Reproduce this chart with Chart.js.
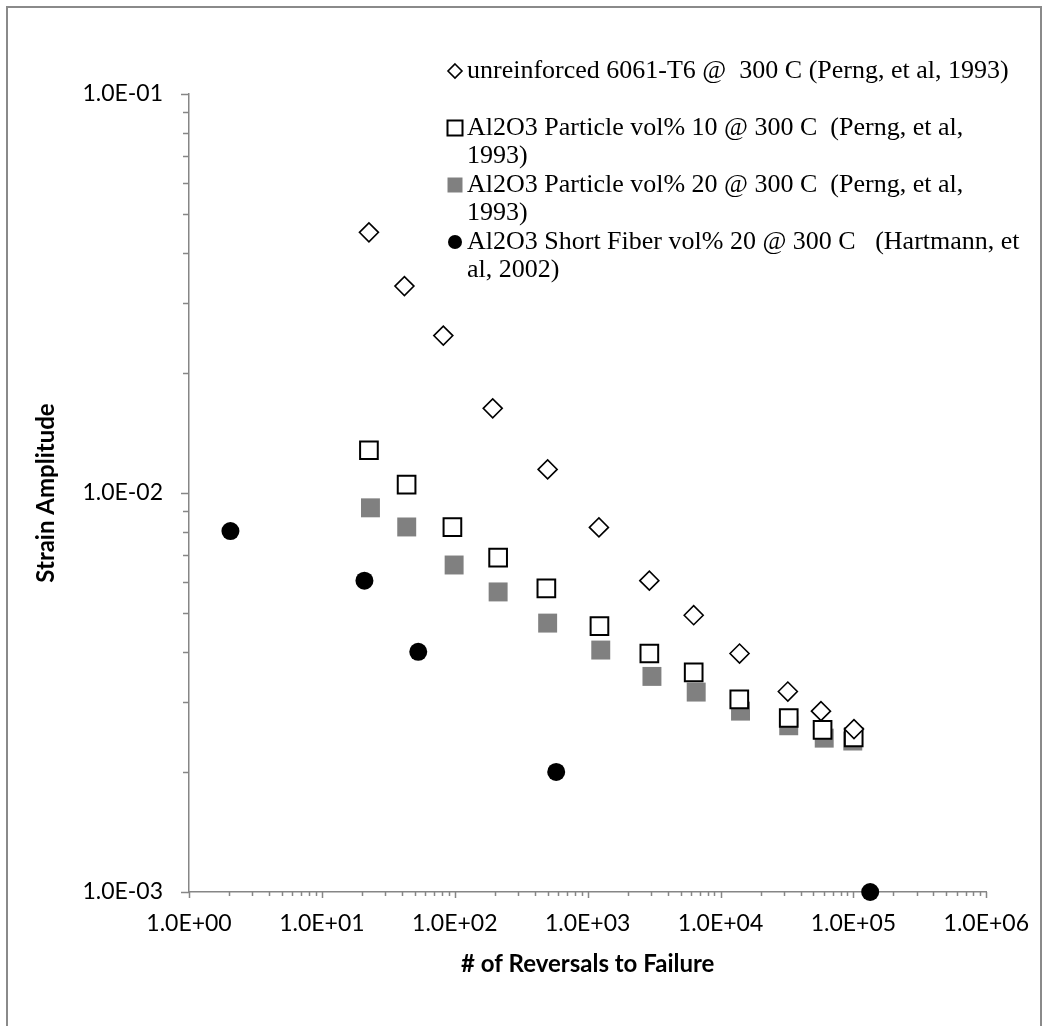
<!DOCTYPE html>
<html lang="en">
<head>
  <meta charset="UTF-8" />
  <title>Strain amplitude vs reversals to failure</title>
  <script src="https://cdn.jsdelivr.net/npm/chart.js@4.4.0/dist/chart.umd.min.js"></script>
  <style>
    body {
      margin: 0;
      background: white;
      overflow: hidden;
    }
    .frame {
      position: absolute;
      left: 6px;
      top: 6px;
      width: 1032px;
      height: 1040px;
      border: 2px solid #8a8a8a;
      pointer-events: none;
    }
    canvas {
      position: absolute;
      left: 0;
      top: 0;
    }
  </style>
</head>
<body>
  <canvas id="chart" width="1047" height="1026"></canvas>
  <div class="frame"></div>

  <script>
    // tick labels
    const xTickValues = [1, 10, 100, 1000, 10000, 100000, 1000000];
    const xTickLabels = ['1.0E+00', '1.0E+01', '1.0E+02', '1.0E+03', '1.0E+04', '1.0E+05', '1.0E+06'];
    const yTickValues = [0.001, 0.01, 0.1];
    const yTickLabels = ['1.0E-03', '1.0E-02', '1.0E-01'];

    // series names (legend lines)
    const seriesNames = [
      ['unreinforced 6061-T6 @  300 C (Perng, et al, 1993)'],
      ['Al2O3 Particle vol% 10 @ 300 C  (Perng, et al,', '1993)'],
      ['Al2O3 Particle vol% 20 @ 300 C  (Perng, et al,', '1993)'],
      ['Al2O3 Short Fiber vol% 20 @ 300 C   (Hartmann, et', 'al, 2002)']
    ];

    // unreinforced 6061-T6
    const unreinfX = [22.6, 41.8, 82, 193, 500, 1216, 2913, 6280, 13900, 32100, 57000, 101000];
    const unreinfY = [0.045, 0.033, 0.0248, 0.0163, 0.01146, 0.0082, 0.00603, 0.00494, 0.00396, 0.00318, 0.00284, 0.00256];

    // Al2O3 particle 10%
    const part10X = [22.6, 43.4, 96, 212, 489, 1227, 2913, 6280, 13840, 32600, 58600, 100500];
    const part10Y = [0.0128, 0.0105, 0.00821, 0.00689, 0.00577, 0.00464, 0.00396, 0.00355, 0.00304, 0.00273, 0.00255, 0.00244];

    // Al2O3 particle 20%
    const part20X = [23.2, 43.5, 98.9, 212, 500, 1255, 3047, 6560, 14140, 32600, 60300, 98900];
    const part20Y = [0.00918, 0.00822, 0.0066, 0.00565, 0.00472, 0.00404, 0.00347, 0.00317, 0.00284, 0.00261, 0.00243, 0.00239];

    // Al2O3 short fiber 20%
    const fiberX = [2.05, 20.9, 53.1, 580, 133700];
    const fiberY = [0.00803, 0.00603, 0.004, 0.002, 0.001];

    function toPoints(xs, ys) {
      return xs.map((x, i) => ({ x: x, y: ys[i] }));
    }

    const axisColor = '#868686';
    const labelFont = 'Lato, "Open Sans", sans-serif';

    // minor / major tick marks drawn outside the axes
    const tickMarks = {
      id: 'tickMarks',
      afterDraw(chart) {
        const ctx = chart.ctx;
        const xs = chart.scales.x, ys = chart.scales.y;
        const area = chart.chartArea;
        ctx.save();
        ctx.strokeStyle = axisColor;
        ctx.lineWidth = 1.5;
        ctx.beginPath();
        for (let e = 0; e <= 6; e++) {
          for (let k = 1; k <= 9; k++) {
            const v = k * Math.pow(10, e);
            if (v > 1000000) break;
            const px = Math.round(xs.getPixelForValue(v)) + 0.5;
            ctx.moveTo(px, area.bottom);
            ctx.lineTo(px, area.bottom + (k === 1 ? 6 : 4));
          }
        }
        for (let e = -3; e <= -1; e++) {
          for (let k = 1; k <= 9; k++) {
            const v = k * Math.pow(10, e);
            if (v > 0.1 + 1e-12) break;
            const py = Math.round(ys.getPixelForValue(v)) + 0.5;
            ctx.moveTo(area.left, py);
            ctx.lineTo(area.left - (k === 1 ? 8 : 6), py);
          }
        }
        ctx.stroke();
        ctx.restore();
      }
    };

    // legend inside the plot area, Excel style
    const legendBox = {
      id: 'legendBox',
      afterDraw(chart) {
        const ctx = chart.ctx;
        const textX = 467, markX = 455;
        const lineH = 28.5, top = 71;
        const startLine = [0, 2, 4, 6];
        ctx.save();
        ctx.font = '26px "Liberation Serif", "Times New Roman", serif';
        ctx.textBaseline = 'middle';
        ctx.textAlign = 'left';
        chart.data.datasets.forEach((ds, i) => {
          const y0 = top + startLine[i] * lineH;
          ctx.fillStyle = 'black';
          seriesNames[i].forEach((line, j) => {
            ctx.fillText(line, textX, y0 + j * lineH);
          });
          ctx.beginPath();
          if (ds.pointStyle === 'rectRot') {
            const r = 7;
            ctx.moveTo(markX, y0 - r);
            ctx.lineTo(markX + r, y0);
            ctx.lineTo(markX, y0 + r);
            ctx.lineTo(markX - r, y0);
            ctx.closePath();
          } else if (ds.pointStyle === 'rect') {
            ctx.rect(markX - 7.5, y0 - 7.5, 15, 15);
          } else {
            ctx.arc(markX, y0, 7, 0, Math.PI * 2);
          }
          ctx.fillStyle = ds.backgroundColor;
          ctx.fill();
          if (ds.borderWidth) {
            ctx.lineWidth = ds.borderWidth;
            ctx.strokeStyle = ds.borderColor;
            ctx.stroke();
          }
        });
        ctx.restore();
      }
    };

    new Chart(document.getElementById('chart'), {
      type: 'scatter',
      data: {
        datasets: [
          {
            label: seriesNames[0].join(' '),
            data: toPoints(unreinfX, unreinfY),
            pointStyle: 'rectRot',
            pointRadius: 9.5,
            backgroundColor: 'white',
            borderColor: 'black',
            borderWidth: 1.6
          },
          {
            label: seriesNames[1].join(' '),
            data: toPoints(part10X, part10Y),
            pointStyle: 'rect',
            pointRadius: 12.5,
            backgroundColor: 'white',
            borderColor: 'black',
            borderWidth: 2
          },
          {
            label: seriesNames[2].join(' '),
            data: toPoints(part20X, part20Y),
            pointStyle: 'rect',
            pointRadius: 13.4,
            backgroundColor: '#808080',
            borderColor: '#808080',
            borderWidth: 0
          },
          {
            label: seriesNames[3].join(' '),
            data: toPoints(fiberX, fiberY),
            pointStyle: 'circle',
            pointRadius: 9,
            backgroundColor: 'black',
            borderColor: 'black',
            borderWidth: 0
          }
        ]
      },
      options: {
        responsive: false,
        animation: false,
        clip: false,
        layout: {
          autoPadding: false,
          padding: { left: 0, top: 94, right: 48, bottom: 0 }
        },
        plugins: {
          legend: { display: false },
          tooltip: { enabled: false }
        },
        scales: {
          x: {
            type: 'logarithmic',
            min: 1,
            max: 1000000,
            afterBuildTicks: s => { s.ticks = xTickValues.map(v => ({ value: v })); },
            afterFit: s => { s.height = 134; },
            grid: { display: false, drawTicks: false },
            border: { display: true, color: axisColor, width: 1.5 },
            ticks: {
              autoSkip: false,
              maxRotation: 0,
              padding: 18,
              color: 'black',
              font: { family: labelFont, size: 23 },
              callback: (v, i) => xTickLabels[i]
            },
            title: {
              display: true,
              text: '# of Reversals to Failure',
              color: 'black',
              font: { family: labelFont, size: 24, weight: 'bold' },
              padding: { top: 0, bottom: 47 }
            }
          },
          y: {
            type: 'logarithmic',
            min: 0.001,
            max: 0.1,
            afterBuildTicks: s => { s.ticks = yTickValues.map(v => ({ value: v })); },
            afterFit: s => { s.width = 189; },
            grid: { display: false, drawTicks: false },
            border: { display: true, color: axisColor, width: 1.5 },
            ticks: {
              autoSkip: false,
              padding: 26,
              color: 'black',
              font: { family: labelFont, size: 23 },
              callback: (v, i) => yTickLabels[i]
            },
            title: {
              display: true,
              text: 'Strain Amplitude',
              color: 'black',
              font: { family: labelFont, size: 24, weight: 'bold' },
              padding: { top: 32, bottom: 0 }
            }
          }
        }
      },
      plugins: [tickMarks, legendBox]
    });
  </script>
</body>
</html>
